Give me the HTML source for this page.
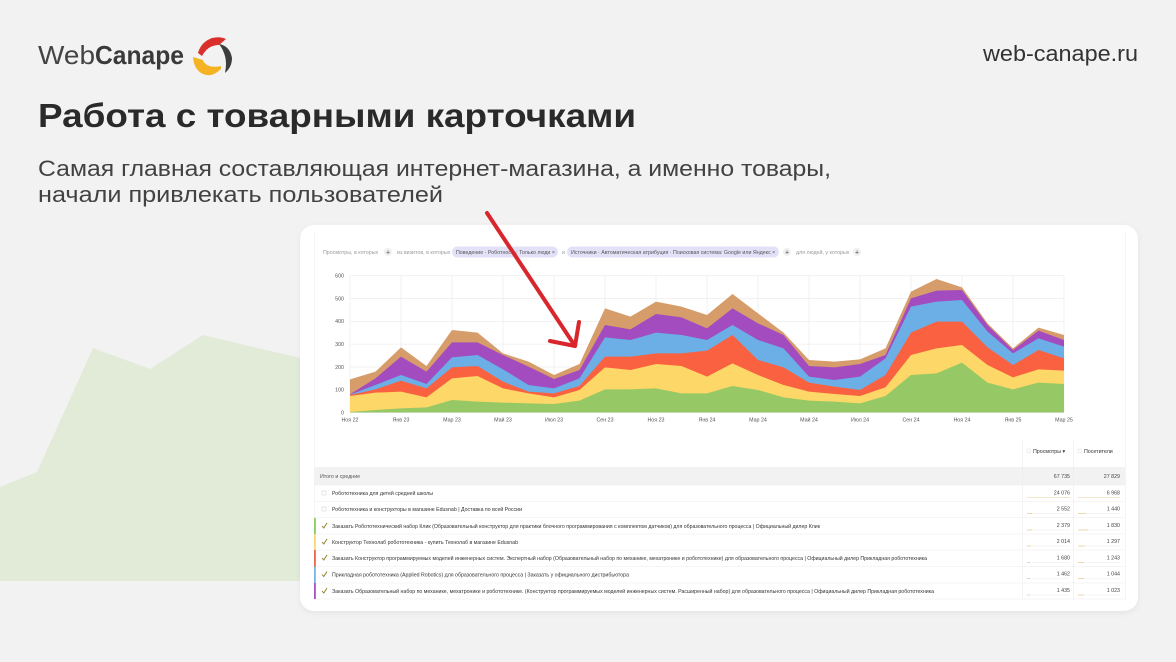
<!DOCTYPE html>
<html><head><meta charset="utf-8"><style>
html,body{margin:0;padding:0;background:#f2f2f2;}
svg{display:block;}
text{font-family:"Liberation Sans","DejaVu Sans",sans-serif;}
</style></head><body>
<svg width="1176" height="662" viewBox="0 0 1176 662" xmlns="http://www.w3.org/2000/svg">
<defs>
<filter id="sh" x="-5%" y="-5%" width="110%" height="115%"><feDropShadow dx="0" dy="2" stdDeviation="3" flood-color="#000" flood-opacity="0.06"/></filter>
</defs>
<rect width="1176" height="662" fill="#f2f2f2"/>
<polygon points="0,487 37,472 93,348 150,369 203,335 300,358 300,581 0,581" fill="#e2ebd8"/>

<!-- logo -->
<text x="38" y="64" font-size="26" fill="#444" textLength="57" lengthAdjust="spacingAndGlyphs">Web</text>
<text x="95" y="64" font-size="26" font-weight="bold" fill="#3a3a3a" textLength="89" lengthAdjust="spacingAndGlyphs">Canape</text>
<path d="M198,53 Q201,42 212,38 Q220,36 226,39 L219,45 Q208,45 202,56 Z" fill="#d9302c"/>
<path d="M219,44 Q230,46 232,58 Q232,67 225,73 Q227,63 225,56 Q223,49 219,44 Z" fill="#3d3d3d"/>
<path d="M193,57 Q194,70 203,74 Q212,78 221,69 L221,66 Q213,68 207,65 Q203,62 203,60 Z" fill="#f5b323"/>
<text x="1138" y="61" font-size="22" fill="#333" text-anchor="end" textLength="155" lengthAdjust="spacingAndGlyphs">web-canape.ru</text>

<!-- title -->
<text x="38" y="127" font-size="33" font-weight="bold" fill="#2a2a2a" textLength="598" lengthAdjust="spacingAndGlyphs">Работа с товарными карточками</text>
<text x="38" y="176" font-size="22" fill="#424242" textLength="793" lengthAdjust="spacingAndGlyphs">Самая главная составляющая интернет-магазина, а именно товары,</text>
<text x="38" y="202" font-size="22" fill="#424242" textLength="405" lengthAdjust="spacingAndGlyphs">начали привлекать пользователей</text>

<!-- card -->
<rect x="300" y="225" width="838" height="386" rx="14" fill="#fff" filter="url(#sh)"/>
<line x1="314.5" y1="232" x2="314.5" y2="600" stroke="#f4f4f4" stroke-width="1"/>
<line x1="1125.5" y1="232" x2="1125.5" y2="600" stroke="#f4f4f4" stroke-width="1"/>

<!-- filter bar -->
<g font-size="5.3" fill="#9a9a9a">
<text x="323" y="254">Просмотры, в которых</text>
<circle cx="388" cy="252" r="4" fill="#f0f0f0"/><text x="388" y="254.3" text-anchor="middle" fill="#444" font-size="7">+</text>
<text x="397" y="254">из визитов, в которых</text>
<rect x="452" y="246.5" width="106" height="11" rx="5.5" fill="#e3e1f7"/>
<text x="456" y="254" fill="#555">Поведение · Роботность: Только люди ×</text>
<text x="562" y="254">и</text>
<rect x="567" y="246.5" width="212" height="11" rx="5.5" fill="#e3e1f7"/>
<text x="571" y="254" fill="#555">Источники · Автоматическая атрибуция · Поисковая система: Google или Яндекс ×</text>
<circle cx="787" cy="252" r="4" fill="#f0f0f0"/><text x="787" y="254.3" text-anchor="middle" fill="#444" font-size="7">+</text>
<text x="796" y="254">для людей, у которых</text>
<circle cx="857" cy="252" r="4" fill="#f0f0f0"/><text x="857" y="254.3" text-anchor="middle" fill="#444" font-size="7">+</text>
</g>

<!-- grid -->
<g stroke="#ececec" stroke-width="0.7">
<line x1="350" y1="275.7" x2="1064" y2="275.7"/>
<line x1="350" y1="298.5" x2="1064" y2="298.5"/>
<line x1="350" y1="321.3" x2="1064" y2="321.3"/>
<line x1="350" y1="344.2" x2="1064" y2="344.2"/>
<line x1="350" y1="367" x2="1064" y2="367"/>
<line x1="350" y1="389.8" x2="1064" y2="389.8"/>
<line x1="350" y1="275.7" x2="350" y2="412.7"/>
<line x1="401" y1="275.7" x2="401" y2="412.7"/>
<line x1="452" y1="275.7" x2="452" y2="412.7"/>
<line x1="503" y1="275.7" x2="503" y2="412.7"/>
<line x1="554" y1="275.7" x2="554" y2="412.7"/>
<line x1="605" y1="275.7" x2="605" y2="412.7"/>
<line x1="656" y1="275.7" x2="656" y2="412.7"/>
<line x1="707" y1="275.7" x2="707" y2="412.7"/>
<line x1="758" y1="275.7" x2="758" y2="412.7"/>
<line x1="809" y1="275.7" x2="809" y2="412.7"/>
<line x1="860" y1="275.7" x2="860" y2="412.7"/>
<line x1="911" y1="275.7" x2="911" y2="412.7"/>
<line x1="962" y1="275.7" x2="962" y2="412.7"/>
<line x1="1013" y1="275.7" x2="1013" y2="412.7"/>
<line x1="1064" y1="275.7" x2="1064" y2="412.7"/>
</g>

<!-- stacked areas -->
<g transform="translate(350,260) scale(1,0.333333)">
<polygon fill="#d69c6a" points="0,358 25.5,335 51,262 76.5,318 102,210 127.5,218 153,280 178.5,305 204,345 229.5,312 255,145 280.5,170 306,125 331.5,140 357,165 382.5,102 408,160 433.5,218 459,300 484.5,305 510,298 535.5,265 561,95 586.5,57 612,82 637.5,190 663,265 688.5,203 714,225 714,458 0,458"/>
<polygon fill="#a34cc0" points="0,403 25.5,355 51,290 76.5,335 102,247 127.5,247 153,285 178.5,320 204,357 229.5,330 255,195 280.5,208 306,162 331.5,172 357,205 382.5,145 408,190 433.5,225 459,318 484.5,322 510,312 535.5,285 561,115 586.5,92 612,90 637.5,195 663,270 688.5,212 714,240 714,458 0,458"/>
<polygon fill="#6caee6" points="0,404 25.5,375 51,345 76.5,372 102,292 127.5,285 153,328 178.5,375 204,385 229.5,355 255,232 280.5,240 306,218 331.5,225 357,240 382.5,195 408,240 433.5,265 459,350 484.5,360 510,350 535.5,295 561,140 586.5,125 612,120 637.5,215 663,280 688.5,235 714,260 714,458 0,458"/>
<polygon fill="#fa6140" points="0,405 25.5,388 51,362 76.5,385 102,322 127.5,318 153,365 178.5,395 204,400 229.5,378 255,290 280.5,290 306,280 331.5,280 357,272 382.5,225 408,300 433.5,322 459,368 484.5,380 510,390 535.5,345 561,218 586.5,185 612,185 637.5,262 663,315 688.5,270 714,295 714,458 0,458"/>
<polygon fill="#fdd767" points="0,408 25.5,398 51,395 76.5,412 102,355 127.5,348 153,385 178.5,400 204,412 229.5,390 255,322 280.5,330 306,312 331.5,318 357,350 382.5,310 408,345 433.5,375 459,395 484.5,402 510,408 535.5,382 561,285 586.5,265 612,255 637.5,315 663,352 688.5,328 714,332 714,458 0,458"/>
<polygon fill="#96c865" points="0,456 25.5,450 51,445 76.5,442 102,420 127.5,425 153,428 178.5,430 204,432 229.5,422 255,388 280.5,388 306,385 331.5,400 357,400 382.5,378 408,390 433.5,412 459,422 484.5,425 510,430 535.5,408 561,345 586.5,340 612,308 637.5,368 663,388 688.5,368 714,372 714,458 0,458"/>
</g>
<line x1="350" y1="412.7" x2="1064" y2="412.7" stroke="#ddd" stroke-width="0.6"/>

<!-- y labels -->
<g font-size="5.3" fill="#555" text-anchor="end">
<text x="344" y="277.5">600</text>
<text x="344" y="300.3">500</text>
<text x="344" y="323.1">400</text>
<text x="344" y="346">300</text>
<text x="344" y="368.8">200</text>
<text x="344" y="391.6">100</text>
<text x="344" y="414.5">0</text>
</g>
<!-- x labels -->
<g font-size="5.3" fill="#555" text-anchor="middle">
<text x="350" y="421.5">Ноя 22</text>
<text x="401" y="421.5">Янв 23</text>
<text x="452" y="421.5">Мар 23</text>
<text x="503" y="421.5">Май 23</text>
<text x="554" y="421.5">Июл 23</text>
<text x="605" y="421.5">Сен 23</text>
<text x="656" y="421.5">Ноя 23</text>
<text x="707" y="421.5">Янв 24</text>
<text x="758" y="421.5">Мар 24</text>
<text x="809" y="421.5">Май 24</text>
<text x="860" y="421.5">Июл 24</text>
<text x="911" y="421.5">Сен 24</text>
<text x="962" y="421.5">Ноя 24</text>
<text x="1013" y="421.5">Янв 25</text>
<text x="1064" y="421.5">Мар 25</text>
</g>

<!-- table header -->
<rect x="1027" y="449" width="3.5" height="3.5" fill="none" stroke="#ddd" stroke-width="0.5"/>
<text x="1033" y="452.8" font-size="5.3" fill="#333">Просмотры ▾</text>
<rect x="1078" y="449" width="3.5" height="3.5" fill="none" stroke="#ddd" stroke-width="0.5"/>
<text x="1084" y="452.8" font-size="5.3" fill="#333">Посетители</text>

<rect x="314" y="467" width="811" height="18" fill="#f2f2f2"/>
<text x="320" y="478" font-size="5.3" fill="#555">Итого и средние</text>
<text x="1070" y="478" font-size="5.3" fill="#444" text-anchor="end">67 735</text>
<text x="1120" y="478" font-size="5.3" fill="#444" text-anchor="end">27 829</text>

<g stroke="#ececec" stroke-width="0.6">
<line x1="314" y1="485" x2="1125" y2="485"/>
<line x1="314" y1="501.5" x2="1125" y2="501.5"/>
<line x1="314" y1="517.5" x2="1125" y2="517.5"/>
<line x1="314" y1="534" x2="1125" y2="534"/>
<line x1="314" y1="550" x2="1125" y2="550"/>
<line x1="314" y1="566.5" x2="1125" y2="566.5"/>
<line x1="314" y1="583" x2="1125" y2="583"/>
<line x1="314" y1="599" x2="1125" y2="599"/>
<line x1="1022.5" y1="440" x2="1022.5" y2="599"/>
<line x1="1073.5" y1="440" x2="1073.5" y2="599"/>
</g>

<!-- color bars -->
<rect x="314" y="518" width="1.8" height="16" fill="#8cc863"/>
<rect x="314" y="534" width="1.8" height="16" fill="#f7d775"/>
<rect x="314" y="550" width="1.8" height="16.5" fill="#e8674a"/>
<rect x="314" y="566.5" width="1.8" height="16.5" fill="#79b5e0"/>
<rect x="314" y="583" width="1.8" height="16" fill="#a352c0"/>

<!-- checkboxes -->
<rect x="322" y="491" width="4" height="4" fill="#fff" stroke="#ccc" stroke-width="0.5"/>
<rect x="322" y="507" width="4" height="4" fill="#fff" stroke="#ccc" stroke-width="0.5"/>
<g fill="none" stroke="#8a7a20" stroke-width="0.9">
<polyline points="322,526 323.8,528 327,523"/>
<polyline points="322,542 323.8,544 327,539"/>
<polyline points="322,558 323.8,560 327,555"/>
<polyline points="322,574.5 323.8,576.5 327,571.5"/>
<polyline points="322,591 323.8,593 327,588"/>
</g>

<g font-size="5.1" fill="#333">
<text x="332" y="495" textLength="101" lengthAdjust="spacingAndGlyphs">Робототехника для детей средней школы</text>
<text x="332" y="511" textLength="190" lengthAdjust="spacingAndGlyphs">Робототехника и конструкторы в магазине Edusnab | Доставка по всей России</text>
<text x="332" y="528" textLength="488" lengthAdjust="spacingAndGlyphs">Заказать Робототехнический набор Клик (Образовательный конструктор для практики блочного программирования с комплектом датчиков) для образовательного процесса | Официальный дилер Клик</text>
<text x="332" y="544" textLength="186" lengthAdjust="spacingAndGlyphs">Конструктор Технолаб робототехника - купить Технолаб в магазине Edusnab</text>
<text x="332" y="560" textLength="595" lengthAdjust="spacingAndGlyphs">Заказать Конструктор программируемых моделей инженерных систем. Экспертный набор (Образовательный набор по механике, мехатронике и робототехнике) для образовательного процесса | Официальный дилер Прикладная робототехника</text>
<text x="332" y="576.5" textLength="297" lengthAdjust="spacingAndGlyphs">Прикладная робототехника (Applied Robotics) для образовательного процесса | Заказать у официального дистрибьютора</text>
<text x="332" y="593" textLength="602" lengthAdjust="spacingAndGlyphs">Заказать Образовательный набор по механике, мехатронике и робототехнике. (Конструктор программируемых моделей инженерных систем. Расширенный набор) для образовательного процесса | Официальный дилер Прикладная робототехника</text>
</g>

<g font-size="5.3" fill="#444" text-anchor="end">
<text x="1070" y="494.5">24 076</text><text x="1120" y="494.5">6 968</text>
<text x="1070" y="510.5">2 552</text><text x="1120" y="510.5">1 440</text>
<text x="1070" y="527">2 379</text><text x="1120" y="527">1 830</text>
<text x="1070" y="543">2 014</text><text x="1120" y="543">1 297</text>
<text x="1070" y="559.5">1 680</text><text x="1120" y="559.5">1 243</text>
<text x="1070" y="575.5">1 462</text><text x="1120" y="575.5">1 044</text>
<text x="1070" y="592">1 435</text><text x="1120" y="592">1 023</text>
</g>
<!-- underline bars -->
<g stroke-width="0.8">
<line x1="1027" y1="497.5" x2="1070" y2="497.5" stroke="#eeddb8"/>
<line x1="1078" y1="497.5" x2="1120" y2="497.5" stroke="#eeddb8"/>
<line x1="1027" y1="513.5" x2="1070" y2="513.5" stroke="#f2f2f2"/><line x1="1027" y1="513.5" x2="1032" y2="513.5" stroke="#e9cf9a"/>
<line x1="1078" y1="513.5" x2="1120" y2="513.5" stroke="#f2f2f2"/><line x1="1078" y1="513.5" x2="1086" y2="513.5" stroke="#e9cf9a"/>
<line x1="1027" y1="530" x2="1070" y2="530" stroke="#f2f2f2"/><line x1="1027" y1="530" x2="1032" y2="530" stroke="#e9cf9a"/>
<line x1="1078" y1="530" x2="1120" y2="530" stroke="#f2f2f2"/><line x1="1078" y1="530" x2="1088" y2="530" stroke="#e9cf9a"/>
<line x1="1027" y1="546" x2="1070" y2="546" stroke="#f2f2f2"/><line x1="1027" y1="546" x2="1031" y2="546" stroke="#e9cf9a"/>
<line x1="1078" y1="546" x2="1120" y2="546" stroke="#f2f2f2"/><line x1="1078" y1="546" x2="1085" y2="546" stroke="#e9cf9a"/>
<line x1="1027" y1="562.5" x2="1070" y2="562.5" stroke="#f2f2f2"/><line x1="1027" y1="562.5" x2="1030" y2="562.5" stroke="#e9cf9a"/>
<line x1="1078" y1="562.5" x2="1120" y2="562.5" stroke="#f2f2f2"/><line x1="1078" y1="562.5" x2="1084" y2="562.5" stroke="#e9cf9a"/>
<line x1="1027" y1="578.5" x2="1070" y2="578.5" stroke="#f2f2f2"/><line x1="1027" y1="578.5" x2="1030" y2="578.5" stroke="#e9cf9a"/>
<line x1="1078" y1="578.5" x2="1120" y2="578.5" stroke="#f2f2f2"/><line x1="1078" y1="578.5" x2="1084" y2="578.5" stroke="#e9cf9a"/>
<line x1="1027" y1="595" x2="1070" y2="595" stroke="#f2f2f2"/><line x1="1027" y1="595" x2="1030" y2="595" stroke="#e9cf9a"/>
<line x1="1078" y1="595" x2="1120" y2="595" stroke="#f2f2f2"/><line x1="1078" y1="595" x2="1084" y2="595" stroke="#e9cf9a"/>
</g>

<!-- red arrow -->
<g stroke="#d8262c" stroke-width="4" fill="none" stroke-linecap="round" stroke-linejoin="round">
<line x1="487" y1="213" x2="575" y2="346"/>
<polyline points="550,341 575,346 579,322"/>
</g>
</svg>
</body></html>
